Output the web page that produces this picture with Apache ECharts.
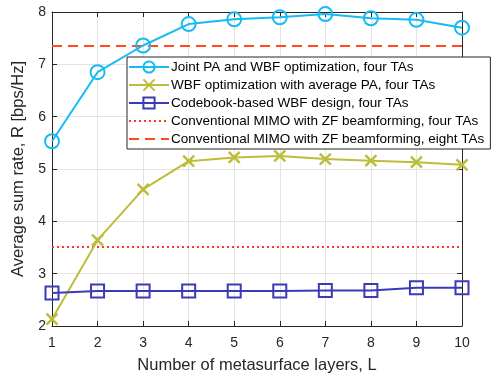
<!DOCTYPE html>
<html><head><meta charset="utf-8">
<script src="https://cdn.jsdelivr.net/npm/echarts@6/dist/echarts.min.js"></script>
<style>html,body{margin:0;padding:0;background:#fff}#c{width:497px;height:379px}</style>
</head><body><div id="c"></div>
<script>
const layers = [1,2,3,4,5,6,7,8,9,10];
const jointPA = [5.53,6.85,7.36,7.77,7.86,7.90,7.96,7.88,7.85,7.70];
const avgPA = [2.13,3.64,4.61,5.15,5.22,5.25,5.19,5.16,5.13,5.08];
const codebook = [2.63,2.67,2.67,2.67,2.67,2.67,2.68,2.68,2.73,2.73];
const zf4 = 3.51;
const zf8 = 7.35;
const xTicks = [1,2,3,4,5,6,7,8,9,10];
const yTicks = [2,3,4,5,6,7,8];
const names = [
 'Joint PA and WBF optimization, four TAs',
 'WBF optimization with average PA, four TAs',
 'Codebook-based WBF design, four TAs',
 'Conventional MIMO with ZF beamforming, four TAs',
 'Conventional MIMO with ZF beamforming, eight TAs'
];
const F = 'Liberation Sans, Arial, Helvetica, sans-serif';
const pair = arr => layers.map((x,i)=>[x,arr[i]]);
const flat = v => layers.map(x=>[x,v]);
const cBlue='#16BBF2', cGreen='#BDBD3A', cNavy='#3B3BB8', cRed='#FF3A10', cRed2='#FF4A1A';
const chart = echarts.init(document.getElementById('c'), null, {renderer:'canvas'});
const axCol='#262626';
chart.setOption({
 animation:false,
 textStyle:{fontFamily:F},
 grid:{left:52,right:35,top:12,bottom:49},
 xAxis:[{type:'value',min:1,max:10,interval:1,
   name:'Number of metasurface layers, L',nameLocation:'middle',nameGap:31,
   nameTextStyle:{fontSize:16.5,color:axCol,fontFamily:F},
   axisLine:{lineStyle:{color:axCol,width:1}},
   axisTick:{inside:true,length:5,lineStyle:{color:axCol}},
   axisLabel:{fontSize:14,color:axCol,margin:10,fontFamily:F},
   splitLine:{show:true,lineStyle:{color:'#e3e3e3',width:1}}},
  {type:'value',position:'top',min:1,max:10,interval:1,
   axisLine:{show:true,lineStyle:{color:axCol,width:1}},
   axisTick:{show:true,inside:true,length:5,lineStyle:{color:axCol}},
   axisLabel:{show:false},splitLine:{show:false}}],
 yAxis:[{type:'value',min:2,max:8,interval:1,
   name:'Average sum rate, R [bps/Hz]',nameLocation:'middle',nameGap:19,
   nameTextStyle:{fontSize:16.5,color:axCol,fontFamily:F},
   axisLine:{show:true,lineStyle:{color:axCol,width:1}},
   axisTick:{show:true,inside:true,length:5,lineStyle:{color:axCol}},
   axisLabel:{fontSize:14,color:axCol,margin:6,fontFamily:F},
   splitLine:{show:true,lineStyle:{color:'#e3e3e3',width:1}}},
  {type:'value',position:'right',min:2,max:8,interval:1,
   axisLine:{show:true,lineStyle:{color:axCol,width:1}},
   axisTick:{show:true,inside:true,length:5,lineStyle:{color:axCol}},
   axisLabel:{show:false},splitLine:{show:false}}],
 legend:{orient:'vertical',left:127,top:57,
   backgroundColor:'#fff',borderColor:axCol,borderWidth:1,
   padding:[3,6,3,1],itemGap:4,itemWidth:40,itemHeight:14,
   textStyle:{fontSize:13.5,color:'#000',fontFamily:F,padding:[0,0,0,-3]},
   data:names},
 series:[
  {name:names[0],type:'line',data:pair(jointPA),symbol:'circle',symbolSize:14,
   lineStyle:{color:cBlue,width:2},itemStyle:{color:'rgba(255,255,255,0)',borderColor:cBlue,borderWidth:2},z:5},
  {name:names[1],type:'line',data:pair(avgPA),symbol:'path://M0,0L10,10M10,0L0,10',symbolSize:11,
   lineStyle:{color:cGreen,width:2},itemStyle:{color:'rgba(255,255,255,0)',borderColor:cGreen,borderWidth:2.5},z:5},
  {name:names[2],type:'line',data:pair(codebook),symbol:'rect',symbolSize:13,
   lineStyle:{color:cNavy,width:2},itemStyle:{color:'rgba(255,255,255,0)',borderColor:cNavy,borderWidth:2},z:5},
  {name:names[3],type:'line',data:flat(zf4),symbol:'circle',symbolSize:0,showSymbol:false,
   lineStyle:{color:cRed,width:2,type:[2,3]},itemStyle:{color:cRed,opacity:0,borderWidth:0},z:4},
  {name:names[4],type:'line',data:flat(zf8),symbol:'circle',symbolSize:0,showSymbol:false,
   lineStyle:{color:cRed2,width:2,type:[10,6]},itemStyle:{color:cRed2,opacity:0,borderWidth:0},z:4}
 ]
});
</script></body></html>
